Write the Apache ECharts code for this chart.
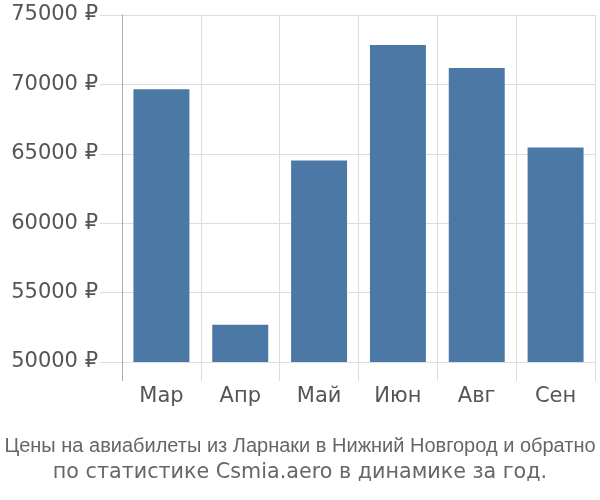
<!DOCTYPE html>
<html><head><meta charset="utf-8">
<script src="https://cdn.jsdelivr.net/npm/echarts@6/dist/echarts.min.js"></script>
<style>html,body{margin:0;padding:0;background:#fff}#c{width:600px;height:500px}</style>
</head><body><div id="c"></div>
<script>
var categories = ['Мар', 'Апр', 'Май', 'Июн', 'Авг', 'Сен'];
var prices = [69650, 52680, 64520, 72830, 71180, 65450];
var yTicks = [50000, 55000, 60000, 65000, 70000, 75000];
var titleLine1 = 'Цены на авиабилеты из Ларнаки в Нижний Новгород и обратно';
var titleLine2 = 'по статистике Csmia.aero в динамике за год.';

var chart = echarts.init(document.getElementById('c'), null, {renderer: 'canvas'});
var gridLeft = 122;
var tickLen = 22;
chart.setOption({
  animation: false,
  grid: {left: gridLeft, right: 5, top: 15, bottom: 138, containLabel: false},
  xAxis: {
    type: 'category', data: categories,
    axisLine: {show: false},
    axisTick: {show: true, length: 19, lineStyle: {color: '#dddddd'}},
    splitLine: {show: true, lineStyle: {color: '#dddddd'}},
    axisLabel: {color: '#555555', fontSize: 21, fontFamily: 'DejaVu Sans', margin: 24}
  },
  yAxis: {
    type: 'value', min: yTicks[0], max: yTicks[yTicks.length - 1], interval: 5000,
    axisLine: {show: true, lineStyle: {color: '#aaaaaa'}},
    axisTick: {show: true, length: tickLen, lineStyle: {color: '#dddddd'}},
    splitLine: {show: true, lineStyle: {color: '#dddddd'}},
    axisLabel: {color: '#555555', fontSize: 21, fontFamily: 'DejaVu Sans', margin: 24,
      formatter: function (v) { return v + ' ₽'; }}
  },
  series: [{
    type: 'bar', data: prices, barCategoryGap: '29%',
    itemStyle: {color: '#4c78a6'}
  }]
});
var graphics = [
  {type: 'text', left: 'center', top: 436, style: {text: titleLine1, fill: '#666666', font: '20px "Liberation Sans Narrow", "Liberation Sans"'}},
  {type: 'text', left: 'center', top: 462, style: {text: titleLine2, fill: '#666666', font: '20.7px "DejaVu Sans"'}}
];
// first x boundary tick drawn in axis-line colour, as in the reference
var pyBottom = chart.convertToPixel({yAxisIndex: 0}, yTicks[0]);
graphics.push({type: 'line', silent: true, z: 3,
  shape: {x1: gridLeft + 0.5, y1: pyBottom, x2: gridLeft + 0.5, y2: pyBottom + 19},
  style: {stroke: '#aaaaaa', lineWidth: 1}});
chart.setOption({graphic: graphics});
</script></body></html>
